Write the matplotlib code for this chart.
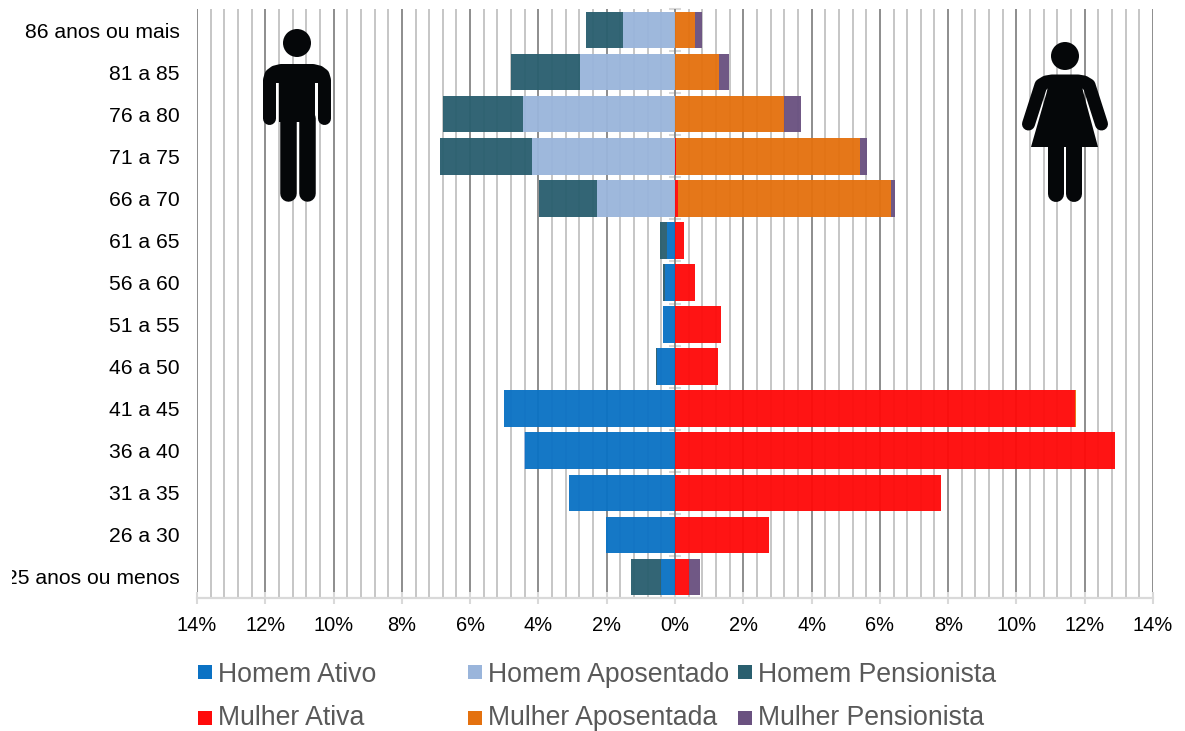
import matplotlib
matplotlib.use('Agg')
import matplotlib.pyplot as plt
from matplotlib.patches import Circle, Polygon, Rectangle
from matplotlib.ticker import MultipleLocator, FuncFormatter
from matplotlib.transforms import Bbox
import numpy as np

plt.rcParams['font.family'] = ['Liberation Sans', 'DejaVu Sans']

faixas = ['86 anos ou mais', '81 a 85', '76 a 80', '71 a 75', '66 a 70', '61 a 65', '56 a 60',
          '51 a 55', '46 a 50', '41 a 45', '36 a 40', '31 a 35', '26 a 30', '25 anos ou menos']

homem_ativo = [0, 0, 0, 0, 0, 0.23, 0.30, 0.35, 0.53, 5.00, 4.38, 3.09, 2.03, 0.41]
homem_apos = [1.52, 2.78, 4.45, 4.19, 2.28, 0, 0, 0, 0, 0, 0.03, 0, 0, 0]
homem_pens = [1.10, 2.02, 2.34, 2.70, 1.70, 0.20, 0.05, 0, 0.03, 0, 0, 0, 0, 0.88]
mulher_ativa = [0, 0, 0, 0.03, 0.10, 0.25, 0.60, 1.35, 1.25, 11.72, 12.88, 7.80, 2.75, 0.42]
mulher_apos = [0.60, 1.30, 3.20, 5.39, 6.24, 0, 0, 0, 0, 0.03, 0, 0, 0, 0]
mulher_pens = [0.20, 0.27, 0.50, 0.20, 0.10, 0, 0, 0, 0, 0, 0, 0, 0, 0.30]

cores = {'Homem Ativo': '#0B72C4', 'Homem Aposentado': '#9AB5DB', 'Homem Pensionista': '#2A5F6F',
         'Mulher Ativa': '#FF0A0A', 'Mulher Aposentada': '#E4710F', 'Mulher Pensionista': '#6A5180'}

W, H = 1185, 731
fig = plt.figure(figsize=(W / 100, H / 100), dpi=100)
ax = fig.add_axes([197 / W, 1 - 598 / H, (1153 - 197) / W, (598 - 9) / H])

y = np.arange(len(faixas))
alt = 0.87
esq = np.zeros(len(faixas))
for nome, vals in [('Homem Ativo', homem_ativo), ('Homem Aposentado', homem_apos), ('Homem Pensionista', homem_pens)]:
    v = np.array(vals)
    ax.barh(y, -v, alt, left=esq, color=cores[nome], alpha=0.96, zorder=3)
    esq = esq - v
dir_ = np.zeros(len(faixas))
for nome, vals in [('Mulher Ativa', mulher_ativa), ('Mulher Aposentada', mulher_apos), ('Mulher Pensionista', mulher_pens)]:
    v = np.array(vals)
    ax.barh(y, v, alt, left=dir_, color=cores[nome], alpha=0.96, zorder=3)
    dir_ = dir_ + v

ax.set_xlim(-14, 14)
ax.set_ylim(len(faixas) - 0.5, -0.5)
ax.set_yticks(y)
ax.set_yticklabels(faixas, fontsize=15.2, color='black')
ax.tick_params(axis='y', length=0, pad=12.5)

ax.xaxis.set_major_locator(MultipleLocator(2))
ax.xaxis.set_minor_locator(MultipleLocator(0.4))
ax.xaxis.set_major_formatter(FuncFormatter(lambda v, p: '%d%%' % abs(round(v))))
ax.tick_params(axis='x', which='major', direction='inout', length=8, width=1.5, color='#D9D9D9',
               labelsize=14.4, pad=9)
ax.tick_params(axis='x', which='minor', length=0)
ax.grid(which='major', axis='x', color='#858585', lw=1.3, zorder=1)
ax.grid(which='minor', axis='x', color='#C2C2C2', lw=1.3, zorder=1)
ax.set_axisbelow(True)
for s in ['top', 'left', 'right']:
    ax.spines[s].set_visible(False)
ax.spines['bottom'].set_color('#D9D9D9')
ax.spines['bottom'].set_linewidth(1.6)

# eixo central com as marcas entre as faixas
centro = ax.secondary_yaxis(0.5)
centro.set_yticks(np.arange(len(faixas) + 1) - 0.5)
centro.tick_params(axis='y', direction='inout', length=8, width=1.5, color='#D9D9D9', labelleft=False, labelright=False)
centro.spines['left'].set_color('#D9D9D9')
centro.spines['left'].set_linewidth(1.6)
centro.spines['right'].set_visible(False)
for s in ['top', 'bottom']:
    centro.spines[s].set_visible(False)

# o rotulo de baixo aparece cortado na esquerda
ultimo = ax.get_yticklabels()[-1]
ultimo.set_clip_box(Bbox([[12, 0], [400, H]]))
ultimo.set_clip_on(True)

# camada em pixels para icones e legenda
top = fig.add_axes([0, 0, 1, 1], zorder=5)
top.set_xlim(0, W)
top.set_ylim(H, 0)
top.axis('off')
preto = '#050709'
px = 0.72

# homem
top.add_patch(Circle((297, 43), 14, color=preto, lw=0))
top.plot([269.5, 269.5, 271, 275, 281, 313, 319, 323, 324.5, 324.5],
         [118.5, 80, 75, 72, 70.5, 70.5, 72, 75, 80, 118.5],
         color=preto, lw=13 * px, solid_capstyle='round', solid_joinstyle='round')
top.add_patch(Rectangle((272, 70), 50, 13, color=preto, lw=0))
top.add_patch(Rectangle((279, 70), 36, 52, color=preto, lw=0))
for xp in [287.5, 307]:
    top.plot([xp, xp], [118, 193], color=preto, lw=16.5 * px, solid_capstyle='round')

# mulher
top.add_patch(Circle((1065, 56), 14, color=preto, lw=0))
top.plot([1028.5, 1041, 1046, 1052, 1078, 1084, 1089, 1101.5],
         [124, 85, 82, 81, 81, 82, 85, 124],
         color=preto, lw=13 * px, solid_capstyle='round', solid_joinstyle='round')
top.add_patch(Polygon([(1031, 147), (1098, 147), (1083.5, 93), (1080, 78), (1050, 78), (1046.5, 93)],
                      closed=True, color=preto, lw=0))
for xp in [1056, 1074]:
    top.plot([xp, xp], [140, 194], color=preto, lw=16 * px, solid_capstyle='round')

# legenda
col_x = [198, 468, 738]
lin_y = [665, 711]
base_y = [681.5, 725]
nomes = [['Homem Ativo', 'Homem Aposentado', 'Homem Pensionista'],
         ['Mulher Ativa', 'Mulher Aposentada', 'Mulher Pensionista']]
for i, ly in enumerate(lin_y):
    for j, cx in enumerate(col_x):
        nome = nomes[i][j]
        top.add_patch(Rectangle((cx, ly), 14, 14, color=cores[nome], lw=0))
        top.text(cx + 20.5, base_y[i], nome, fontsize=19.2, color='#595959', va='baseline', ha='left')

fig.savefig('out.png', dpi=100)
